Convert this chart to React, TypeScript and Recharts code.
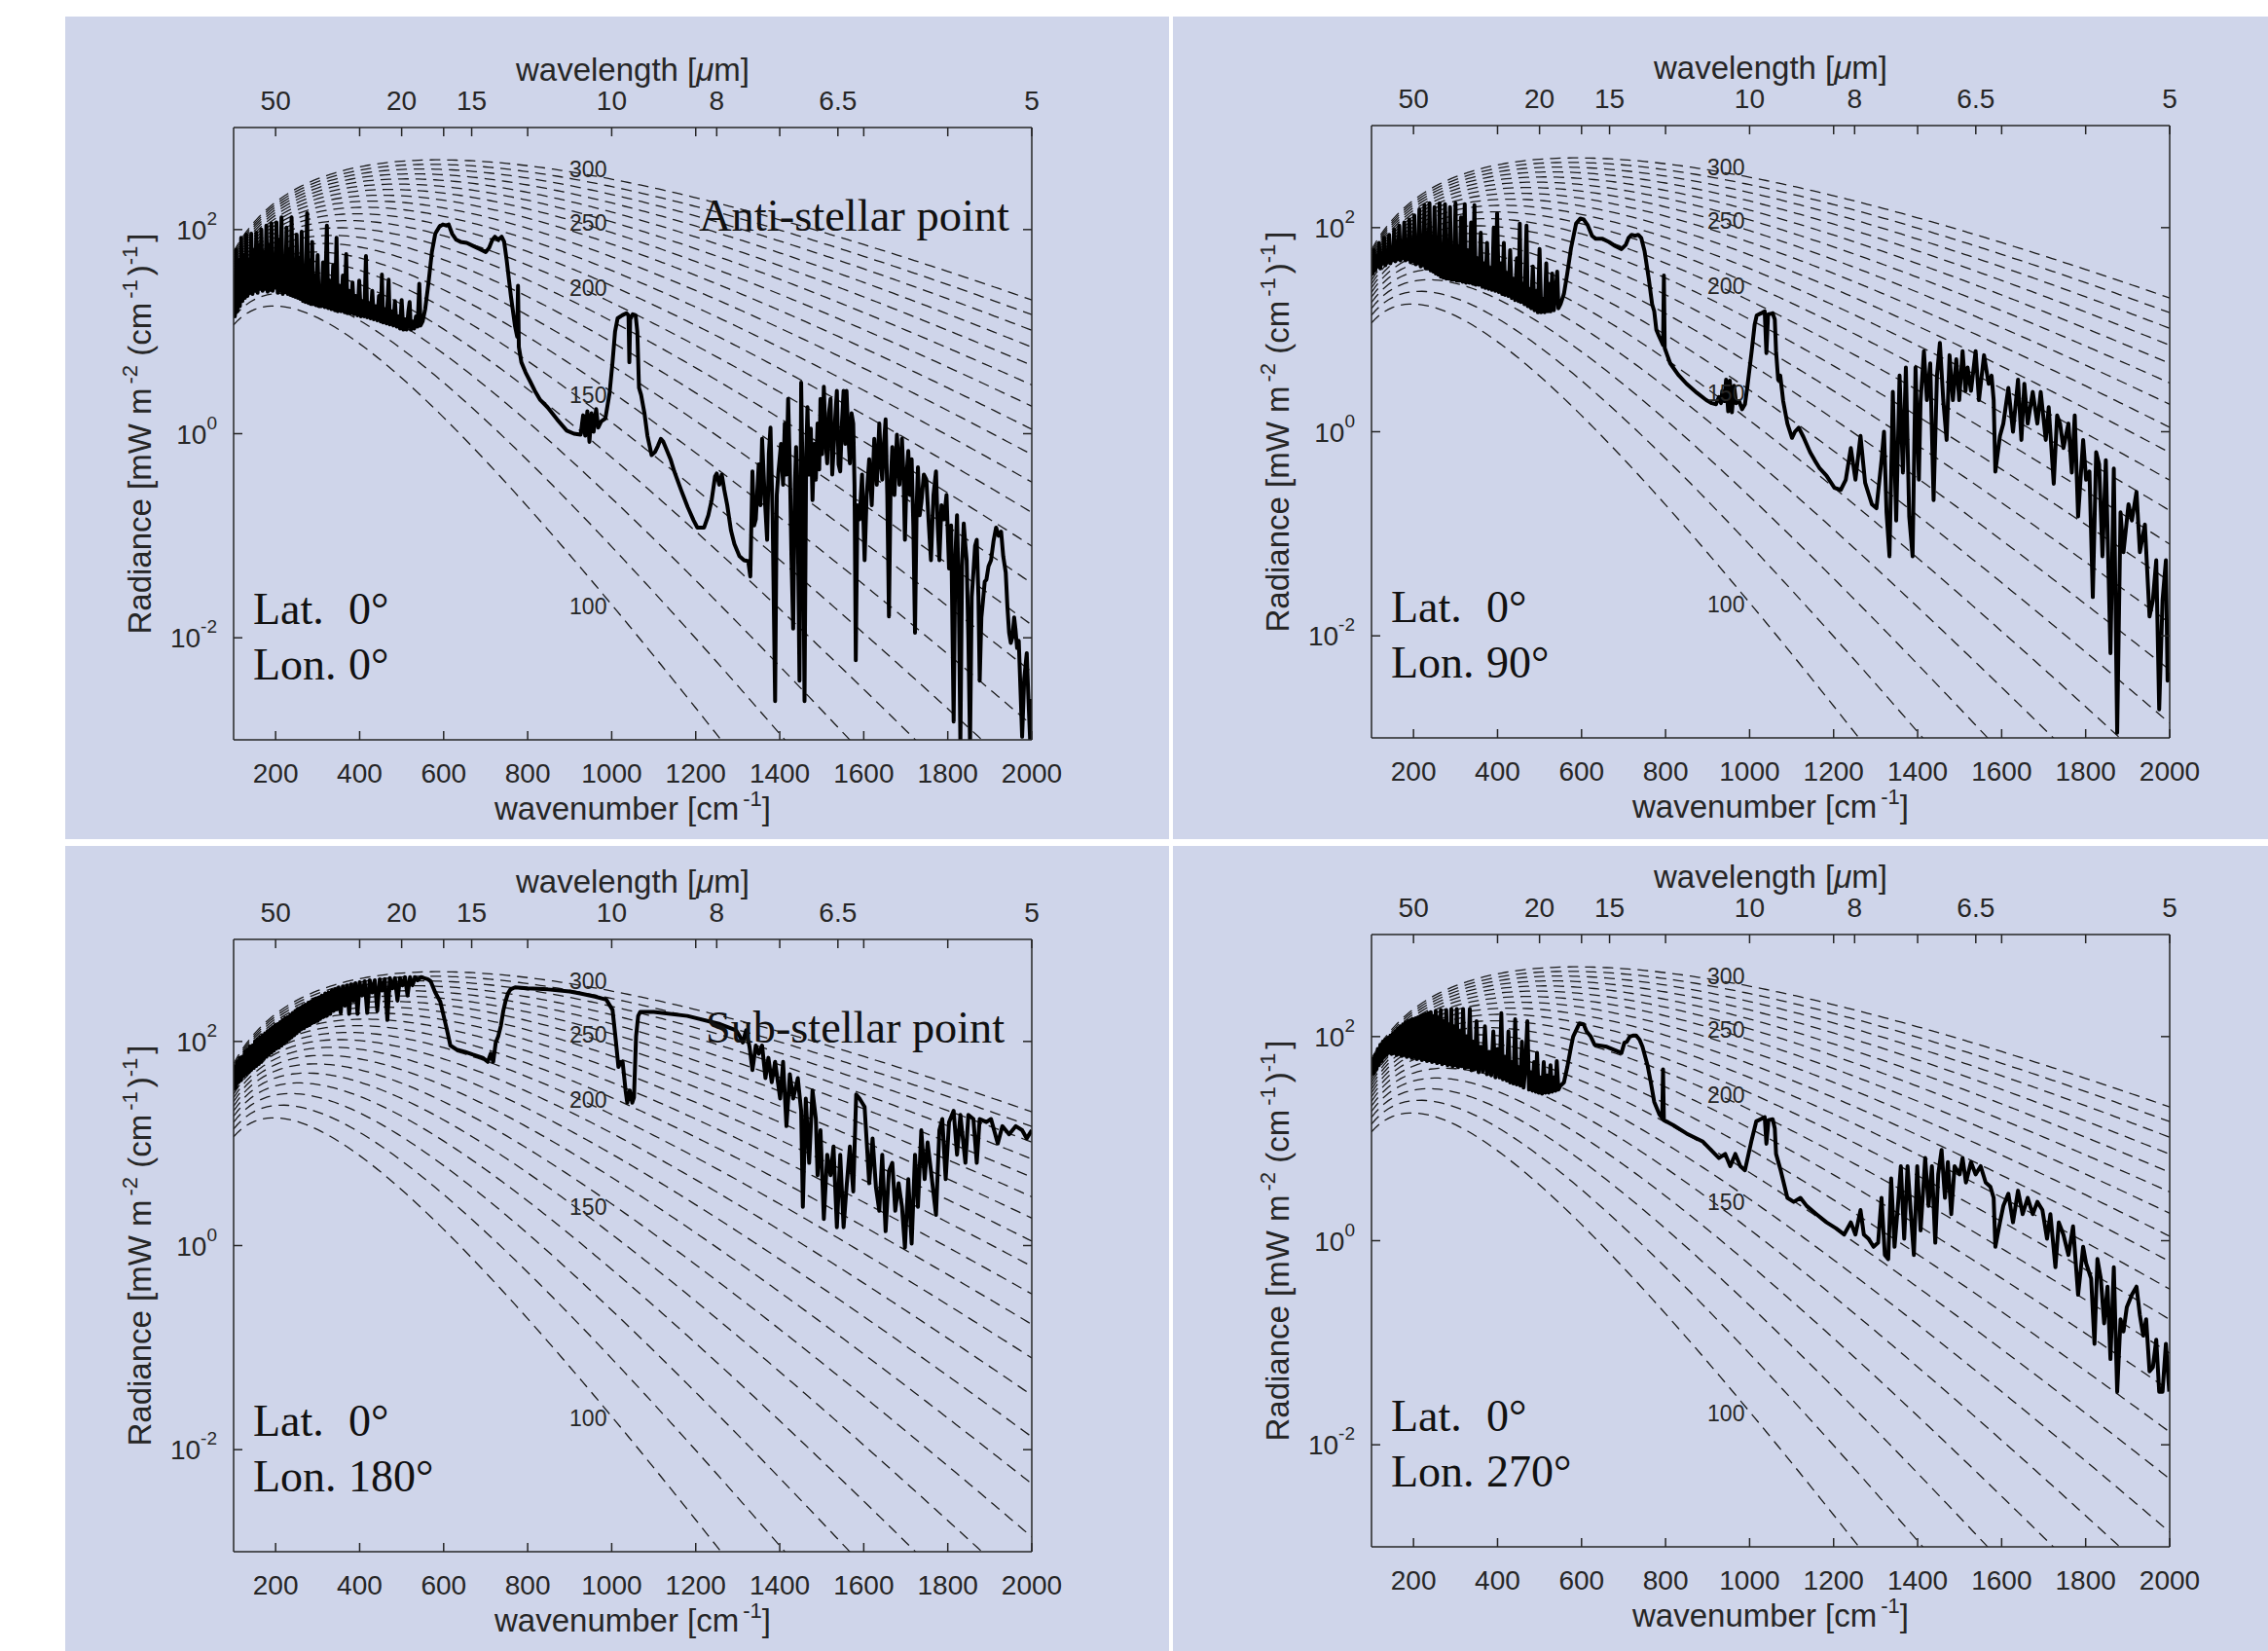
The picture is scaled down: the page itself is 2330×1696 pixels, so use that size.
import React from "react";
import { LineChart, Line, XAxis, YAxis, ReferenceDot } from "recharts";

// ---- axes -------------------------------------------------------------
const WAVENUMBER_TICKS = [200, 400, 600, 800, 1000, 1200, 1400, 1600, 1800, 2000];
// wavelengths (µm) labelled along the top axis
const WAVELENGTH_LABELS = [50, 20, 15, 10, 8, 6.5, 5];
const RADIANCE_TICKS = [0.01, 1, 100];

// ---- brightness-temperature isotherms (K) ----------------------------
const ISOTHERM_TEMPS = [
  100, 110, 120, 130, 140, 150, 160, 170, 180, 190, 200,
  210, 220, 230, 240, 250, 260, 270, 280, 290, 300,
];
const ISOTHERM_LABEL_TEMPS = [300, 250, 200, 150, 100];
const ISOTHERM_LABEL_RADIANCE = [389, 117, 26.8, 2.4, 0.0202];
const ISOTHERM_LABEL_NU = 944;

// ---- spectra: [wavenumber (cm-1), log10 radiance] ---------------------
const lon0Spectrum: [number, number][] = [
  [100, 1.55], [103, 1.15], [106, 1.8], [109, 1.2], [112, 1.7], [115, 1.25], [118, 1.92], [121, 1.3],
  [124, 1.75], [127, 1.33], [130, 1.95], [133, 1.35], [136, 1.7], [139, 1.38], [142, 1.96], [145, 1.37],
  [148, 1.8], [151, 1.4], [154, 1.97], [157, 1.38], [160, 1.85], [163, 1.42], [166, 2.0], [169, 1.4],
  [172, 1.78], [175, 1.42], [178, 2.04], [181, 1.39], [184, 1.85], [187, 1.41], [190, 2.06], [193, 1.4],
  [196, 1.75], [199, 1.43], [202, 2.07], [205, 1.38], [208, 1.9], [211, 1.4], [214, 2.12], [217, 1.37],
  [220, 1.7], [223, 1.39], [226, 2.02], [229, 1.37], [232, 1.8], [235, 1.36], [238, 2.12], [241, 1.35],
  [244, 1.65], [247, 1.34], [250, 1.95], [253, 1.33], [256, 1.72], [259, 1.32], [262, 1.98], [265, 1.3],
  [268, 1.62], [271, 1.29], [275, 2.16], [278, 1.28], [281, 1.7], [284, 1.27], [287, 1.88], [290, 1.27],
  [293, 1.55], [296, 1.26], [300, 1.75], [303, 1.25], [306, 1.45], [309, 1.25], [313, 1.68], [317, 1.24],
  [322, 2.04], [325, 1.23], [329, 1.5], [333, 1.22], [337, 1.65], [341, 1.21], [345, 1.92], [348, 1.2],
  [352, 1.45], [356, 1.2], [360, 1.55], [364, 1.19], [368, 1.76], [371, 1.18], [375, 1.4], [379, 1.18],
  [383, 1.48], [387, 1.17], [391, 1.35], [395, 1.16], [399, 1.5], [403, 1.15], [407, 1.3], [411, 1.15],
  [415, 1.74], [418, 1.14], [422, 1.28], [426, 1.13], [430, 1.4], [434, 1.12], [438, 1.25], [442, 1.11],
  [446, 1.35], [450, 1.1], [453, 1.56], [456, 1.09], [460, 1.22], [464, 1.08], [469, 1.51], [472, 1.07],
  [476, 1.2], [480, 1.06], [484, 1.3], [488, 1.05], [492, 1.15], [496, 1.03], [500, 1.31], [504, 1.02],
  [508, 1.12], [512, 1.02], [516, 1.2], [519, 1.29], [522, 1.02], [526, 1.1], [530, 1.03], [534, 1.15],
  [538, 1.05], [542, 1.47], [545, 1.06], [550, 1.1], [556, 1.22], [564, 1.48], [572, 1.78], [580, 1.96],
  [590, 2.03], [598, 2.05], [606, 2.04], [612, 2.05], [620, 1.96], [630, 1.9], [640, 1.88], [655, 1.87],
  [670, 1.84], [685, 1.81], [700, 1.78], [708, 1.82], [716, 1.9], [722, 1.93], [730, 1.9], [738, 1.93],
  [744, 1.88], [750, 1.7], [760, 1.35], [770, 1.05], [775, 0.95], [777, 1.45], [779, 0.85], [785, 0.7],
  [795, 0.6], [805, 0.52], [817, 0.42], [830, 0.33], [847, 0.26], [870, 0.14], [893, 0.03], [910, 0.0],
  [926, -0.01], [932, 0.18], [937, -0.02], [942, 0.22], [947, -0.08], [952, 0.2], [957, 0.02], [963, 0.24],
  [968, 0.06], [975, 0.12], [985, 0.15], [995, 0.4], [1002, 0.7], [1008, 1.0], [1014, 1.13], [1025, 1.16],
  [1035, 1.18], [1040, 1.16], [1042, 0.7], [1044, 1.12], [1050, 1.17], [1057, 1.16], [1061, 1.0], [1065, 0.45],
  [1070, 0.38], [1078, 0.2], [1085, -0.02], [1095, -0.21], [1103, -0.18], [1110, -0.12], [1117, -0.05], [1123, -0.08],
  [1130, -0.15], [1140, -0.25], [1149, -0.37], [1165, -0.55], [1181, -0.72], [1195, -0.85], [1204, -0.92], [1220, -0.92],
  [1230, -0.8], [1238, -0.65], [1246, -0.42], [1250, -0.39], [1256, -0.5], [1262, -0.4], [1268, -0.55], [1275, -0.7],
  [1284, -0.95], [1292, -1.08], [1304, -1.2], [1315, -1.24], [1325, -1.25], [1330, -1.4], [1335, -0.37], [1339, -0.9],
  [1343, -0.84], [1350, -0.3], [1354, -0.7], [1358, -0.05], [1364, -0.6], [1370, -1.04], [1374, -0.2], [1378, 0.06],
  [1383, -0.8], [1389, -2.62], [1393, -0.6], [1397, -0.37], [1403, -0.1], [1408, -0.5], [1412, 0.1], [1416, -0.4],
  [1420, 0.34], [1424, -0.3], [1428, -1.24], [1432, -1.91], [1436, -0.5], [1439, -0.13], [1443, -0.9], [1447, -2.42],
  [1451, 0.5], [1455, -0.6], [1459, -2.62], [1463, -0.2], [1466, 0.26], [1470, -0.4], [1474, 0.05], [1478, -0.65],
  [1482, -0.1], [1486, -0.45], [1490, 0.1], [1494, -0.35], [1497, 0.34], [1501, -0.2], [1505, 0.46], [1509, -0.05],
  [1513, -0.29], [1517, 0.2], [1521, 0.34], [1525, -0.4], [1528, -0.17], [1532, 0.15], [1536, 0.42], [1540, -0.3],
  [1544, -0.37], [1548, 0.1], [1552, 0.42], [1556, -0.1], [1559, 0.42], [1563, 0.0], [1567, -0.29], [1571, 0.2],
  [1575, 0.1], [1578, -0.5], [1581, -2.22], [1585, -0.7], [1590, -0.84], [1596, -0.4], [1602, -1.24], [1607, -0.6],
  [1613, -0.25], [1619, -0.7], [1625, -0.05], [1631, -0.5], [1637, 0.1], [1641, -0.3], [1644, -0.45], [1648, -0.1],
  [1652, 0.14], [1656, -0.6], [1660, -1.79], [1664, -0.5], [1668, -0.13], [1673, -0.6], [1679, -0.01], [1685, -0.5],
  [1691, -0.05], [1695, -0.45], [1698, -1.04], [1702, -0.4], [1706, -0.17], [1710, -0.6], [1714, -0.25], [1718, -0.9],
  [1722, -1.95], [1726, -0.7], [1729, -0.33], [1733, -0.8], [1737, -0.68], [1743, -0.4], [1749, -0.45], [1755, -0.9],
  [1760, -1.24], [1766, -0.6], [1772, -0.37], [1776, -0.9], [1780, -1.24], [1785, -0.7], [1791, -0.84], [1797, -0.6],
  [1803, -1.32], [1808, -0.9], [1814, -2.82], [1818, -1.2], [1822, -0.8], [1826, -1.5], [1830, -3.05], [1834, -1.3],
  [1838, -0.88], [1842, -1.1], [1845, -1.24], [1849, -2.0], [1853, -3.05], [1857, -1.6], [1861, -1.36], [1865, -1.1],
  [1869, -1.04], [1873, -1.6], [1876, -2.42], [1880, -1.8], [1884, -1.63], [1888, -1.45], [1892, -1.43], [1897, -1.3],
  [1903, -1.24], [1909, -1.05], [1915, -0.92], [1921, -1.0], [1927, -0.96], [1932, -1.2], [1938, -1.36], [1942, -1.7],
  [1946, -1.95], [1950, -2.05], [1954, -1.99], [1958, -1.8], [1961, -1.91], [1965, -2.1], [1969, -2.03], [1973, -2.5],
  [1977, -2.97], [1982, -2.4], [1988, -2.15], [1992, -2.6], [1996, -3.0], [2000, -2.6],
];

const lon90Spectrum: [number, number][] = [
  [100, 1.62], [103, 1.55], [106, 1.78], [109, 1.58], [112, 1.72], [115, 1.62], [118, 1.85], [121, 1.6],
  [124, 1.75], [127, 1.65], [130, 1.9], [133, 1.63], [136, 1.78], [139, 1.66], [142, 1.93], [145, 1.65],
  [148, 1.8], [151, 1.68], [154, 1.98], [157, 1.67], [160, 1.85], [163, 1.69], [166, 2.02], [169, 1.68],
  [172, 1.82], [175, 1.7], [178, 2.05], [181, 1.68], [184, 1.88], [187, 1.69], [190, 2.08], [193, 1.66],
  [196, 1.85], [199, 1.67], [202, 2.12], [205, 1.64], [208, 1.9], [211, 1.65], [214, 2.18], [217, 1.62],
  [220, 1.85], [223, 1.63], [226, 2.22], [229, 1.6], [232, 1.95], [235, 1.6], [238, 2.24], [241, 1.58],
  [244, 1.82], [247, 1.57], [250, 2.2], [253, 1.55], [256, 1.9], [259, 1.54], [262, 2.24], [265, 1.52],
  [268, 1.8], [271, 1.51], [275, 2.23], [278, 1.5], [281, 1.85], [284, 1.5], [287, 2.2], [290, 1.49],
  [293, 1.75], [296, 1.49], [300, 2.24], [303, 1.48], [306, 1.82], [309, 1.48], [313, 2.1], [317, 1.47],
  [322, 2.23], [325, 1.46], [329, 1.78], [333, 1.46], [337, 2.05], [341, 1.45], [345, 2.22], [348, 1.44],
  [352, 1.7], [356, 1.44], [360, 1.95], [364, 1.42], [368, 1.65], [371, 1.41], [375, 1.85], [379, 1.4],
  [383, 1.6], [387, 1.39], [391, 2.0], [395, 1.38], [399, 2.14], [403, 1.37], [407, 1.65], [411, 1.35],
  [415, 1.85], [418, 1.34], [422, 1.55], [426, 1.33], [430, 1.78], [434, 1.31], [438, 1.5], [442, 1.29],
  [446, 1.7], [450, 1.28], [453, 2.04], [456, 1.27], [460, 1.45], [464, 1.25], [469, 2.02], [472, 1.23],
  [476, 1.4], [480, 1.21], [484, 1.62], [488, 1.19], [492, 1.38], [496, 1.17], [500, 1.79], [504, 1.17],
  [508, 1.3], [512, 1.17], [516, 1.65], [519, 1.18], [522, 1.45], [526, 1.18], [530, 1.55], [534, 1.19],
  [538, 1.35], [542, 1.57], [545, 1.21], [550, 1.25], [558, 1.35], [566, 1.55], [575, 1.8], [587, 2.04],
  [597, 2.09], [605, 2.08], [615, 2.02], [625, 1.92], [634, 1.89], [650, 1.89], [665, 1.86], [680, 1.82],
  [695, 1.79], [705, 1.83], [712, 1.9], [719, 1.93], [728, 1.92], [735, 1.93], [742, 1.9], [750, 1.77],
  [760, 1.5], [768, 1.25], [773, 1.18], [778, 1.0], [784, 0.94], [794, 0.85], [796, 1.53], [798, 0.82],
  [804, 0.75], [811, 0.67], [830, 0.56], [850, 0.47], [875, 0.38], [897, 0.31], [910, 0.28], [920, 0.27],
  [927, 0.34], [932, 0.28], [935, 0.4], [940, 0.3], [944, 0.51], [949, 0.2], [953, 0.5], [958, 0.19],
  [963, 0.45], [968, 0.28], [975, 0.3], [982, 0.22], [989, 0.27], [995, 0.45], [1005, 0.79], [1012, 1.05],
  [1017, 1.14], [1027, 1.16], [1036, 1.18], [1040, 0.77], [1044, 1.15], [1055, 1.16], [1060, 1.1], [1063, 0.79],
  [1068, 0.51], [1073, 0.55], [1080, 0.3], [1090, 0.08], [1101, -0.06], [1108, 0.0], [1117, 0.04], [1128, -0.05],
  [1144, -0.2], [1155, -0.28], [1167, -0.36], [1183, -0.43], [1202, -0.55], [1217, -0.57], [1229, -0.47], [1241, -0.16],
  [1252, -0.47], [1264, -0.04], [1275, -0.5], [1291, -0.71], [1302, -0.75], [1314, -0.28], [1320, 0.0], [1326, -0.79],
  [1333, -1.22], [1341, 0.39], [1349, -0.87], [1357, 0.55], [1365, -0.4], [1372, 0.63], [1380, -0.83], [1388, -1.22],
  [1395, 0.63], [1403, -0.47], [1407, 0.3], [1415, 0.79], [1422, 0.31], [1430, 0.67], [1438, -0.67], [1446, 0.55],
  [1453, 0.87], [1461, 0.31], [1469, -0.08], [1476, 0.75], [1484, 0.31], [1492, 0.71], [1499, 0.31], [1507, 0.79],
  [1514, 0.4], [1519, 0.63], [1527, 0.4], [1538, 0.79], [1546, 0.31], [1558, 0.75], [1569, 0.47], [1576, 0.55],
  [1581, 0.31], [1585, -0.39], [1596, -0.04], [1604, 0.08], [1616, 0.43], [1627, 0.0], [1639, 0.51], [1647, -0.08],
  [1654, 0.47], [1662, 0.08], [1674, 0.39], [1685, 0.08], [1693, 0.39], [1705, -0.08], [1712, 0.24], [1724, -0.51],
  [1732, 0.16], [1739, 0.08], [1747, -0.16], [1759, 0.08], [1767, -0.4], [1774, 0.16], [1782, -0.83], [1794, -0.08],
  [1801, -0.47], [1809, -0.39], [1817, -1.62], [1825, -0.2], [1832, -0.32], [1840, -1.22], [1848, -0.28], [1859, -2.17],
  [1867, -0.36], [1875, -2.95], [1883, -0.79], [1890, -1.18], [1902, -0.71], [1910, -0.87], [1921, -0.59], [1929, -1.18],
  [1941, -0.91], [1952, -1.81], [1960, -1.65], [1968, -1.26], [1975, -2.72], [1983, -1.65], [1991, -1.26], [1995, -2.44],
  [2000, -2.36],
];

const lon180Spectrum: [number, number][] = [
  [100, 1.52], [103, 1.75], [106, 1.55], [109, 1.8], [112, 1.6], [115, 1.84], [118, 1.62], [121, 1.85],
  [124, 1.66], [127, 1.9], [130, 1.68], [133, 1.92], [136, 1.7], [139, 1.95], [142, 1.72], [145, 1.96],
  [148, 1.74], [151, 2.0], [154, 1.76], [157, 2.02], [160, 1.78], [163, 2.04], [166, 1.8], [169, 2.06],
  [172, 1.83], [175, 2.08], [178, 1.85], [181, 2.1], [184, 1.87], [187, 2.12], [190, 1.89], [193, 2.14],
  [196, 1.91], [199, 2.16], [202, 1.93], [205, 2.17], [208, 1.94], [211, 2.19], [214, 1.96], [217, 2.21],
  [220, 1.98], [223, 2.23], [226, 2.0], [229, 2.24], [232, 2.02], [235, 2.26], [238, 2.04], [241, 2.28],
  [244, 2.06], [247, 2.3], [250, 2.08], [253, 2.32], [256, 2.1], [259, 2.33], [262, 2.12], [265, 2.35],
  [268, 2.13], [271, 2.36], [275, 2.15], [278, 2.38], [281, 2.16], [284, 2.39], [287, 2.18], [290, 2.41],
  [293, 2.19], [296, 2.42], [300, 2.2], [303, 2.43], [306, 2.22], [310, 2.45], [314, 2.24], [318, 2.47],
  [322, 2.25], [326, 2.48], [330, 2.27], [334, 2.5], [338, 2.3], [342, 2.51], [346, 2.32], [350, 2.53],
  [355, 2.28], [360, 2.54], [365, 2.35], [370, 2.55], [375, 2.27], [380, 2.56], [385, 2.4], [390, 2.57],
  [395, 2.27], [400, 2.58], [406, 2.45], [412, 2.59], [418, 2.28], [424, 2.6], [430, 2.48], [436, 2.6],
  [442, 2.3], [448, 2.61], [454, 2.5], [460, 2.61], [466, 2.21], [472, 2.62], [478, 2.52], [484, 2.62],
  [490, 2.4], [496, 2.62], [502, 2.55], [508, 2.63], [514, 2.45], [520, 2.63], [526, 2.55], [532, 2.63],
  [538, 2.6], [546, 2.63], [554, 2.62], [562, 2.61], [569, 2.59], [580, 2.48], [592, 2.39], [600, 2.25],
  [608, 2.11], [616, 1.96], [631, 1.92], [650, 1.9], [670, 1.87], [693, 1.84], [705, 1.8], [712, 1.88],
  [718, 1.8], [724, 1.99], [730, 2.05], [736, 2.15], [742, 2.3], [747, 2.39], [753, 2.47], [759, 2.51],
  [770, 2.53], [800, 2.52], [848, 2.51], [900, 2.49], [925, 2.47], [960, 2.44], [987, 2.41], [1002, 2.31],
  [1010, 2.0], [1016, 1.75], [1022, 1.8], [1026, 1.8], [1033, 1.52], [1037, 1.4], [1043, 1.52], [1049, 1.4],
  [1053, 1.45], [1058, 2.05], [1063, 2.25], [1068, 2.29], [1100, 2.29], [1180, 2.25], [1258, 2.17], [1296, 2.11],
  [1305, 2.05], [1312, 1.99], [1320, 2.11], [1328, 1.95], [1335, 1.72], [1343, 1.96], [1350, 1.88], [1358, 1.96],
  [1366, 1.64], [1373, 1.84], [1381, 1.6], [1389, 1.8], [1401, 1.44], [1408, 1.8], [1416, 1.17], [1424, 1.68],
  [1432, 1.44], [1443, 1.64], [1451, 1.32], [1455, 0.38], [1462, 1.44], [1470, 0.81], [1478, 1.52], [1486, 1.24],
  [1490, 0.69], [1497, 1.13], [1505, 0.26], [1513, 0.89], [1521, 0.69], [1528, 0.97], [1536, 0.18], [1544, 0.89],
  [1552, 0.18], [1559, 0.57], [1567, 0.97], [1575, 0.53], [1582, 1.48], [1590, 1.44], [1602, 1.36], [1613, 0.61],
  [1621, 1.05], [1629, 0.57], [1637, 0.34], [1644, 0.89], [1652, 0.14], [1660, 0.73], [1668, 0.81], [1675, 0.34],
  [1683, 0.61], [1691, 0.38], [1698, -0.02], [1706, 0.65], [1714, 0.02], [1722, 0.89], [1729, 0.38], [1737, 1.13],
  [1745, 0.65], [1752, 1.01], [1760, 0.73], [1772, 0.3], [1780, 1.13], [1787, 1.24], [1795, 0.65], [1803, 1.21],
  [1814, 1.32], [1822, 0.89], [1830, 1.28], [1842, 0.81], [1849, 1.28], [1861, 1.24], [1869, 0.81], [1876, 1.24],
  [1892, 1.21], [1903, 1.24], [1919, 1.0], [1930, 1.17], [1946, 1.09], [1962, 1.17], [1977, 1.13], [1988, 1.05],
  [2000, 1.13],
];

const lon270Spectrum: [number, number][] = [
  [100, 1.62], [103, 1.78], [106, 1.64], [109, 1.82], [112, 1.68], [115, 1.88], [118, 1.72], [121, 1.92],
  [124, 1.76], [127, 1.95], [130, 1.8], [133, 1.97], [136, 1.82], [139, 1.99], [142, 1.84], [145, 2.01],
  [148, 1.83], [151, 2.03], [154, 1.84], [157, 2.05], [160, 1.82], [163, 2.08], [166, 1.83], [169, 2.1],
  [172, 1.81], [175, 2.12], [178, 1.82], [181, 2.14], [184, 1.8], [187, 2.15], [190, 1.81], [193, 2.16],
  [196, 1.79], [199, 2.17], [202, 1.8], [205, 2.18], [208, 1.78], [211, 2.19], [214, 1.79], [217, 2.2],
  [220, 1.77], [223, 2.21], [226, 1.78], [229, 2.22], [232, 1.76], [235, 2.23], [238, 1.77], [241, 2.24],
  [244, 1.75], [247, 2.2], [250, 1.76], [253, 2.25], [256, 1.74], [259, 2.18], [262, 1.75], [265, 2.26],
  [268, 1.73], [271, 2.15], [275, 1.74], [278, 2.26], [281, 1.72], [284, 2.12], [287, 1.73], [290, 2.27],
  [293, 1.71], [296, 2.1], [300, 1.72], [303, 2.27], [306, 1.7], [310, 2.05], [314, 1.71], [318, 2.27],
  [322, 1.69], [326, 2.0], [330, 1.7], [334, 2.27], [338, 1.67], [342, 1.95], [346, 1.68], [350, 2.15],
  [355, 1.65], [360, 1.9], [365, 1.66], [370, 2.1], [375, 1.63], [380, 1.85], [385, 1.62], [390, 2.05],
  [395, 1.6], [400, 1.88], [405, 1.6], [409, 2.23], [413, 1.58], [418, 1.8], [422, 1.57], [426, 2.05],
  [430, 1.55], [434, 1.75], [438, 1.54], [442, 2.17], [446, 1.53], [450, 1.7], [454, 1.52], [458, 1.95],
  [462, 1.5], [466, 1.68], [471, 2.15], [475, 1.48], [479, 1.65], [483, 1.47], [487, 1.75], [491, 1.46],
  [494, 1.84], [498, 1.45], [502, 1.6], [506, 1.44], [510, 1.75], [514, 1.45], [518, 1.62], [522, 1.45],
  [526, 1.72], [530, 1.46], [534, 1.6], [538, 1.47], [541, 1.76], [545, 1.48], [550, 1.52], [558, 1.55],
  [566, 1.7], [575, 1.9], [580, 2.0], [595, 2.13], [605, 2.12], [612, 2.05], [622, 2.0], [631, 1.92],
  [660, 1.9], [695, 1.84], [702, 1.94], [708, 1.95], [715, 2.0], [722, 2.01], [730, 2.01], [738, 1.97],
  [745, 1.9], [757, 1.72], [765, 1.55], [773, 1.36], [785, 1.24], [792, 1.2], [794, 1.68], [796, 1.18],
  [806, 1.16], [819, 1.13], [850, 1.05], [889, 0.97], [927, 0.81], [942, 0.85], [954, 0.73], [966, 0.85],
  [978, 0.73], [989, 0.69], [1004, 0.97], [1016, 1.17], [1026, 1.19], [1036, 1.21], [1040, 0.95], [1045, 1.18],
  [1055, 1.19], [1060, 1.1], [1063, 0.85], [1074, 0.69], [1090, 0.42], [1105, 0.38], [1121, 0.42], [1136, 0.34],
  [1159, 0.26], [1183, 0.18], [1206, 0.12], [1225, 0.06], [1241, 0.18], [1252, 0.06], [1264, 0.3], [1272, 0.06],
  [1283, 0.02], [1295, -0.06], [1306, -0.02], [1314, 0.42], [1322, -0.14], [1330, -0.18], [1337, 0.61], [1345, -0.06],
  [1353, 0.34], [1360, 0.73], [1368, 0.02], [1376, 0.73], [1384, 0.26], [1391, -0.14], [1399, 0.73], [1407, 0.1],
  [1418, 0.81], [1426, 0.34], [1434, 0.73], [1442, -0.02], [1449, 0.65], [1457, 0.89], [1465, 0.42], [1472, 0.77],
  [1480, 0.26], [1488, 0.73], [1500, 0.65], [1507, 0.81], [1515, 0.57], [1527, 0.77], [1538, 0.65], [1550, 0.73],
  [1562, 0.57], [1573, 0.53], [1581, 0.42], [1585, -0.06], [1596, 0.18], [1604, 0.34], [1616, 0.46], [1627, 0.18],
  [1639, 0.49], [1650, 0.26], [1662, 0.42], [1674, 0.26], [1685, 0.38], [1697, 0.3], [1708, 0.02], [1716, 0.26],
  [1728, -0.26], [1736, 0.18], [1747, 0.06], [1759, -0.14], [1770, 0.14], [1782, -0.53], [1794, -0.06], [1801, -0.22],
  [1813, -0.37], [1821, -1.01], [1828, -0.18], [1836, -0.37], [1844, -0.81], [1852, -0.45], [1859, -1.16], [1867, -0.26],
  [1875, -1.48], [1883, -0.77], [1890, -0.89], [1898, -0.65], [1910, -0.53], [1921, -0.45], [1929, -0.73], [1937, -0.93],
  [1944, -0.77], [1952, -1.28], [1960, -1.24], [1968, -0.97], [1975, -1.48], [1983, -1.48], [1991, -1.01], [1999, -1.48],
];

// ---- styling ------------------------------------------------------------
const AXIS_FONT = "'Liberation Sans', Arial, Helvetica, sans-serif";
const SERIF_FONT = "'Liberation Serif', 'Times New Roman', serif";
const INK = "#262626";
const PANEL_BG = "#cfd5ea";

const PLOT_W = 820;
const PLOT_H = 629;
const LEFT_AXIS_W = 110;
const TOP_AXIS_H = 60;
const RIGHT_AXIS_W = 10;
const BOTTOM_AXIS_H = 70;

// Planck radiance integrated over the hemisphere, mW m-2 (cm-1)-1
const C1 = 1.191042e-5;
const C2 = 1.4387752;
const planckFlux = (nu: number, t: number) =>
  (Math.PI * C1 * nu ** 3) / Math.expm1((C2 * nu) / t);

const NU_GRID = Array.from({ length: 191 }, (_, i) => 100 + i * 10);
const isotherms = ISOTHERM_TEMPS.map((t) => ({
  t,
  points: NU_GRID.map((nu) => ({ nu, rad: planckFlux(nu, t) })),
}));

const TOP_TICKS = Array.from(
  new Set([
    ...WAVENUMBER_TICKS,
    ...WAVELENGTH_LABELS.map((l) => +(10000 / l).toFixed(2)),
  ])
).sort((a, b) => a - b);

const wavelengthLabel = (v: number) => {
  const hit = WAVELENGTH_LABELS.find((l) => Math.abs(10000 / l - v) < 0.5);
  return hit === undefined ? "" : String(hit);
};

const toPoints = (s: [number, number][]) =>
  s.map(([nu, lg]) => ({ nu, rad: 10 ** lg }));

type PanelDef = {
  key: string;
  left: number;
  top: number;
  width: number;
  height: number;
  plotX: number;
  plotY: number;
  lon: string;
  title?: string;
  titleX?: number;
  titleW?: number;
  spectrum: [number, number][];
};

const PANELS: PanelDef[] = [
  { key: "lon0", left: 67, top: 17, width: 1134, height: 845, plotX: 173, plotY: 114, lon: "0°",
    title: "Anti-stellar point", titleX: 478, titleW: 319, spectrum: lon0Spectrum },
  { key: "lon90", left: 1205, top: 17, width: 1125, height: 845, plotX: 204, plotY: 112, lon: "90°",
    spectrum: lon90Spectrum },
  { key: "lon180", left: 67, top: 869, width: 1134, height: 827, plotX: 173, plotY: 96, lon: "180°",
    title: "Sub-stellar point", titleX: 485, titleW: 307, spectrum: lon180Spectrum },
  { key: "lon270", left: 1205, top: 869, width: 1125, height: 827, plotX: 204, plotY: 91, lon: "270°",
    spectrum: lon270Spectrum },
];

function PowerTick(props: any) {
  const { x, y, payload } = props;
  const exp = Math.round(Math.log10(payload.value));
  return (
    <text x={x} y={y} textAnchor="end" fill={INK} fontFamily={AXIS_FONT} fontSize={28}>
      <tspan dy={10}>10</tspan>
      <tspan dy={-15} fontSize={19}>{exp}</tspan>
    </text>
  );
}

const tickStyle = { fontSize: 28, fill: INK, fontFamily: AXIS_FONT };

function Panel({ p }: { p: PanelDef }) {
  const data = toPoints(p.spectrum);
  const margin = {
    left: p.plotX - LEFT_AXIS_W,
    top: p.plotY - TOP_AXIS_H,
    right: p.width - p.plotX - PLOT_W - RIGHT_AXIS_W,
    bottom: p.height - p.plotY - PLOT_H - BOTTOM_AXIS_H,
  };
  const cx = p.plotX + PLOT_W / 2;
  const bottom = p.plotY + PLOT_H;

  return (
    <div
      style={{
        position: "absolute",
        left: p.left,
        top: p.top,
        width: p.width,
        height: p.height,
        background: PANEL_BG,
      }}
    >
      <LineChart width={p.width} height={p.height} margin={margin}>
        <XAxis
          xAxisId="b"
          type="number"
          dataKey="nu"
          domain={[100, 2000]}
          allowDataOverflow
          ticks={WAVENUMBER_TICKS}
          interval={0}
          height={BOTTOM_AXIS_H}
          tickSize={-9}
          tickMargin={33}
          stroke={INK}
          strokeWidth={1.5}
          tick={tickStyle}
        />
        <XAxis
          xAxisId="t"
          orientation="top"
          type="number"
          dataKey="nu"
          domain={[100, 2000]}
          allowDataOverflow
          ticks={TOP_TICKS}
          interval={0}
          height={TOP_AXIS_H}
          tickSize={-9}
          tickMargin={27}
          stroke={INK}
          strokeWidth={1.5}
          tickFormatter={wavelengthLabel}
          tick={tickStyle}
        />
        <YAxis
          yAxisId="l"
          type="number"
          scale="log"
          domain={[0.001, 1000]}
          allowDataOverflow
          ticks={RADIANCE_TICKS}
          interval={0}
          width={LEFT_AXIS_W}
          tickSize={-9}
          tickMargin={26}
          stroke={INK}
          strokeWidth={1.5}
          tick={(t: any) => <PowerTick {...t} />}
        />
        <YAxis
          yAxisId="r"
          orientation="right"
          type="number"
          scale="log"
          domain={[0.001, 1000]}
          allowDataOverflow
          ticks={RADIANCE_TICKS}
          interval={0}
          width={RIGHT_AXIS_W}
          tickSize={-9}
          stroke={INK}
          strokeWidth={1.5}
          tickFormatter={() => ""}
        />
        {/* unstroked copy of the hottest isotherm, so the wavelength axis has a series */}
        <Line
          xAxisId="t"
          yAxisId="r"
          data={isotherms[isotherms.length - 1].points}
          dataKey="rad"
          stroke="none"
          dot={false}
          activeDot={false}
          legendType="none"
          isAnimationActive={false}
        />
        {isotherms.map((c) => (
          <Line
            key={c.t}
            xAxisId="b"
            yAxisId="l"
            data={c.points}
            dataKey="rad"
            type="linear"
            stroke="#1c1c1c"
            strokeWidth={1.3}
            strokeDasharray="11 7"
            dot={false}
            activeDot={false}
            isAnimationActive={false}
          />
        ))}
        {ISOTHERM_LABEL_TEMPS.map((t, i) => (
          <ReferenceDot
            key={`lab${t}`}
            xAxisId="b"
            yAxisId="l"
            x={ISOTHERM_LABEL_NU}
            y={ISOTHERM_LABEL_RADIANCE[i]}
            r={0}
            fill="none"
            stroke="none"
            label={{
              value: String(t),
              position: "center",
              fontSize: 23,
              fill: INK,
              fontFamily: AXIS_FONT,
            }}
          />
        ))}
        <Line
          xAxisId="b"
          yAxisId="l"
          data={data}
          dataKey="rad"
          type="linear"
          stroke="#000"
          strokeWidth={4}
          strokeLinejoin="round"
          dot={false}
          activeDot={false}
          isAnimationActive={false}
        />
      </LineChart>
      <svg
        width={p.width}
        height={p.height}
        style={{ position: "absolute", left: 0, top: 0, pointerEvents: "none" }}
      >
        <text x={cx} y={p.plotY - 48} textAnchor="middle" fontSize={33} fontFamily={AXIS_FONT} fill={INK}>
          wavelength [<tspan fontStyle="italic">μ</tspan>m]
        </text>
        <text x={cx} y={bottom + 82} textAnchor="middle" fontSize={33} fontFamily={AXIS_FONT} fill={INK}>
          wavenumber [cm
          <tspan dx={4} dy={-14} fontSize={22}>-1</tspan>
          <tspan dy={14}>]</tspan>
        </text>
        <text
          transform={`translate(${p.plotX - 85}, ${p.plotY + PLOT_H / 2}) rotate(-90)`}
          textAnchor="middle"
          fontSize={33}
          fontFamily={AXIS_FONT}
          fill={INK}
        >
          Radiance [mW m
          <tspan dx={4} dy={-14} fontSize={22}>-2</tspan>
          <tspan dy={14}> (cm</tspan>
          <tspan dx={4} dy={-14} fontSize={22}>-1</tspan>
          <tspan dx={4} dy={14}>)</tspan>
          <tspan dy={-14} fontSize={22}>-1</tspan>
          <tspan dx={4} dy={14}>]</tspan>
        </text>
        <g fontFamily={SERIF_FONT} fontSize={46} fill="#111">
          <text x={p.plotX + 20} y={bottom - 119}>Lat.</text>
          <text x={p.plotX + 118} y={bottom - 119}>0°</text>
          <text x={p.plotX + 20} y={bottom - 62}>Lon.</text>
          <text x={p.plotX + 118} y={bottom - 62}>{p.lon}</text>
          {p.title && (
            <text
              x={p.plotX + (p.titleX ?? 0)}
              y={p.plotY + 106}
              textLength={p.titleW}
              lengthAdjust="spacingAndGlyphs"
            >
              {p.title}
            </text>
          )}
        </g>
      </svg>
    </div>
  );
}

export default function App() {
  return (
    <div
      style={{
        position: "absolute",
        left: 0,
        top: 0,
        width: 2330,
        height: 1696,
        background: "#fff",
        overflow: "hidden",
      }}
    >
      {PANELS.map((p) => (
        <Panel key={p.key} p={p} />
      ))}
    </div>
  );
}
